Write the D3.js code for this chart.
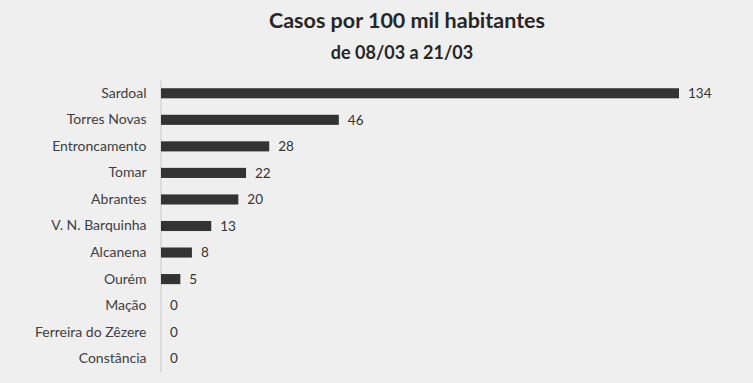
<!DOCTYPE html>
<html><head><meta charset="utf-8">
<script src="https://cdn.jsdelivr.net/npm/d3@7"></script>
<style>html,body{margin:0;padding:0;background:#efefef;}svg{display:block;}</style>
</head><body>
<script>
const categories = ["Sardoal","Torres Novas","Entroncamento","Tomar","Abrantes","V. N. Barquinha","Alcanena","Ourém","Mação","Ferreira do Zêzere","Constância"];
const values = [134,46,28,22,20,13,8,5,0,0,0];
const title = "Casos por 100 mil habitantes";
const subtitle = "de 08/03 a 21/03";

const W = 753, H = 383;
const svg = d3.select("body").append("svg").attr("width", W).attr("height", H);
svg.append("rect").attr("width", W).attr("height", H).attr("fill", "#efefef");

const x = d3.scaleLinear().domain([0, 134]).range([161, 679]);
const y = d3.scaleBand().domain(categories).range([80, 372]).paddingInner(0.62).paddingOuter(0.31);

svg.append("text").attr("x", 407).attr("y", 28).attr("text-anchor", "middle")
  .attr("font-family", "Lato, 'Open Sans', sans-serif").attr("font-weight", "bold")
  .attr("font-size", 21.5).attr("fill", "#262626").text(title);
svg.append("text").attr("x", 402).attr("y", 59).attr("text-anchor", "middle")
  .attr("font-family", "Lato, 'Open Sans', sans-serif").attr("font-weight", "bold")
  .attr("font-size", 18).attr("fill", "#262626").text(subtitle);

const yAxis = d3.axisLeft(y).tickSize(0).tickPadding(14);
const g = svg.append("g").attr("transform", "translate(160.5,0)").call(yAxis);
g.select(".domain").attr("stroke", "#c8c8c8").attr("stroke-width", 1);
g.selectAll("text").attr("font-family", "Lato, 'Open Sans', sans-serif").attr("font-size", 14).attr("fill", "#404040");

svg.selectAll("rect.bar").data(categories).join("rect").attr("class", "bar")
  .attr("x", x(0)).attr("y", d => y(d))
  .attr("width", (d, i) => x(values[i]) - x(0))
  .attr("height", y.bandwidth()).attr("fill", "#333333");

svg.selectAll("text.val").data(categories).join("text").attr("class", "val")
  .attr("x", (d, i) => x(values[i]) + 9)
  .attr("y", d => y(d) + y.bandwidth() / 2).attr("dy", "0.35em")
  .attr("font-family", "Lato, 'Open Sans', sans-serif").attr("font-size", 13.5).attr("fill", "#333")
  .text((d, i) => values[i]);
</script>
</body></html>
